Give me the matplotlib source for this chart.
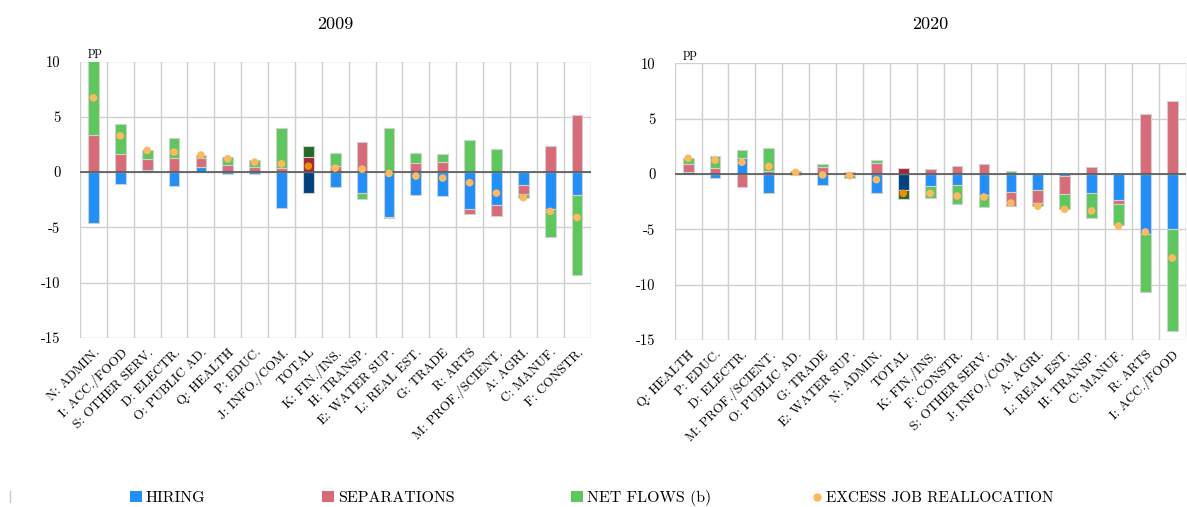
import numpy as np
import matplotlib
matplotlib.use("Agg")
import matplotlib.pyplot as plt
from matplotlib.lines import Line2D
from matplotlib.patches import Patch

plt.rcParams['font.family'] = ['cmr10', 'DejaVu Serif']
plt.rcParams['axes.unicode_minus'] = False

# ---- 2009 ----
cats_2009 = ["N: ADMIN.", "I: ACC./FOOD", "S: OTHER SERV.", "D: ELECTR.", "O: PUBLIC AD.",
             "Q: HEALTH", "P: EDUC.", "J: INFO./COM.", "TOTAL", "K: FIN./INS.",
             "H: TRANSP.", "E: WATER SUP.", "L: REAL EST.", "G: TRADE", "R: ARTS",
             "M: PROF./SCIENT.", "A: AGRI.", "C: MANUF.", "F: CONSTR."]
hiring_2009 = [-4.64, -1.05, 0.18, -1.27, 0.45, -0.15, -0.15, -3.28, -1.87, -1.33,
               -1.90, -4.07, -2.08, -2.20, -3.37, -3.01, -1.17, -3.34, -2.05]
separ_2009 = [3.34, 1.63, 0.96, 1.23, 0.78, 0.60, 0.45, 0.39, 1.39, 0.57,
              2.71, -0.05, 0.81, 0.87, -0.45, -0.93, -0.81, 2.32, 5.15]
net_2009 = [6.70, 2.71, 0.82, 1.87, 0.31, 0.79, 0.60, 3.61, 0.99, 1.12,
            -0.57, 3.98, 0.88, 0.79, 2.89, 2.08, -0.33, -2.53, -7.23]
excess_2009 = [6.72, 3.28, 1.96, 1.81, 1.54, 1.20, 0.90, 0.75, 0.54, 0.36,
               0.27, -0.12, -0.36, -0.54, -0.96, -1.90, -2.32, -3.55, -4.10]

# ---- 2020 ----
cats_2020 = ["Q: HEALTH", "P: EDUC.", "D: ELECTR.", "M: PROF./SCIENT.", "O: PUBLIC AD.",
             "G: TRADE", "E: WATER SUP.", "N: ADMIN.", "TOTAL", "K: FIN./INS.",
             "F: CONSTR.", "S: OTHER SERV.", "J: INFO./COM.", "A: AGRI.", "L: REAL EST.",
             "H: TRANSP.", "C: MANUF.", "R: ARTS", "I: ACC./FOOD"]
hiring_2020 = [0.21, -0.39, 1.45, -1.72, 0.05, -0.99, 0.18, -1.72, -1.45, -1.05,
               -0.96, -1.87, -1.63, -1.45, -0.18, -1.69, -2.32, -5.45, -4.97]
separ_2020 = [0.69, 0.57, -1.14, 0.30, 0.22, 0.60, -0.05, 0.96, 0.54, 0.45,
              0.75, 0.87, -1.26, -1.14, -1.60, 0.63, -0.36, 5.39, 6.57]
net_2020 = [0.52, 1.06, 0.75, 2.08, -0.10, 0.30, -0.31, 0.30, -0.84, -1.15,
            -1.78, -1.08, 0.27, -0.30, -1.38, -2.31, -1.96, -5.18, -9.22]
excess_2020 = [1.42, 1.24, 1.06, 0.69, 0.15, -0.09, -0.15, -0.51, -1.75, -1.75,
               -1.99, -2.08, -2.62, -2.92, -3.19, -3.34, -4.70, -5.24, -7.59]

yticks = [10, 5, 0, -5, -10, -15]

C_HIR, C_SEP, C_NET, C_EXC = "#1e8ffb", "#d96b78", "#5cc85c", "#ffb95c"
C_HIR_T, C_SEP_T, C_NET_T, C_EXC_T = "#00427f", "#a12637", "#236a26", "#f08c00"

fig = plt.figure(figsize=(11.87, 5.07), dpi=100)
W, H = 1187, 507


def panel(rect_px, title, cats, hiring, separ, net, excess):
    x0, y0, x1, y1 = rect_px
    ax = fig.add_axes([x0 / W, 1 - y1 / H, (x1 - x0) / W, (y1 - y0) / H])
    n = len(cats)
    x = np.arange(n)
    ax.set_xlim(-0.5, n - 0.5)
    ax.set_ylim(-15, 10)

    # grid: category separators and 5-pp lines
    for b in np.arange(-0.5, n, 1.0):
        ax.axvline(b, color="#cfcfcf", lw=1.0, zorder=0)
    for v in yticks:
        ax.axhline(v, color="#cfcfcf", lw=1.0, zorder=0)
    ax.axhline(0, color="#555555", lw=1.2, zorder=3)

    # diverging stack: positives upward, negatives downward, in series order
    pos = np.zeros(n)
    neg = np.zeros(n)
    for vals, col, colt in ((hiring, C_HIR, C_HIR_T), (separ, C_SEP, C_SEP_T),
                            (net, C_NET, C_NET_T)):
        vals = np.asarray(vals, dtype=float)
        base = np.where(vals >= 0, pos, neg)
        colors = [colt if c == "TOTAL" else col for c in cats]
        ax.bar(x, vals, width=0.4, bottom=base, color=colors,
               edgecolor="#d0d0d0", linewidth=0.8, zorder=2)
        pos = pos + np.where(vals >= 0, vals, 0)
        neg = neg + np.where(vals < 0, vals, 0)

    dcol = [C_EXC_T if c == "TOTAL" else C_EXC for c in cats]
    ax.scatter(x, excess, s=30, color=dcol, zorder=4, linewidths=0)

    for s in ax.spines.values():
        s.set_visible(False)
    ax.set_yticks(yticks)
    ax.set_yticklabels([str(v) for v in yticks], fontsize=10.5)
    ax.tick_params(axis="y", length=0, pad=14)
    ax.set_xticks(x)
    ax.set_xticklabels(cats, rotation=45, ha="right", rotation_mode="anchor",
                       fontsize=9.5)
    ax.tick_params(axis="x", length=0, pad=6)
    ax.text(0.015, 1.012, "pp", transform=ax.transAxes, fontsize=9.5,
            ha="left", va="bottom")
    fig.text((x0 + x1) / 2 / W, 1 - 24 / H, title, fontsize=13,
             ha="center", va="center")
    return ax


panel((80, 61.5, 590.5, 338), "2009", cats_2009, hiring_2009, separ_2009,
      net_2009, excess_2009)
panel((674.7, 63.3, 1185.7, 340), "2020", cats_2020, hiring_2020, separ_2020,
      net_2020, excess_2020)

handles = [Patch(facecolor=C_HIR, edgecolor="none"),
           Patch(facecolor=C_SEP, edgecolor="none"),
           Patch(facecolor=C_NET, edgecolor="none"),
           Line2D([], [], marker="o", ls="none", color=C_EXC, markersize=5)]
labels = ["HIRING", "SEPARATIONS", "NET FLOWS (b)", "EXCESS JOB REALLOCATION"]
xs = [130, 322, 571, 811]
sizes = [11.5, 11.5, 11.5, 11.0]
for h, lab, xp, fs in zip(handles, labels, xs, sizes):
    fig.legend([h], [lab], loc="center left",
               bbox_to_anchor=(xp / W, 1 - 498 / H), frameon=False,
               fontsize=fs, handlelength=0.75, handleheight=0.75,
               handletextpad=0.25, borderpad=0, borderaxespad=0)

fig.add_artist(Line2D([10 / W, 10 / W], [1 - 491 / H, 1 - 502 / H],
                      color="#cccccc", lw=1))

fig.savefig("out.png", dpi=100)
